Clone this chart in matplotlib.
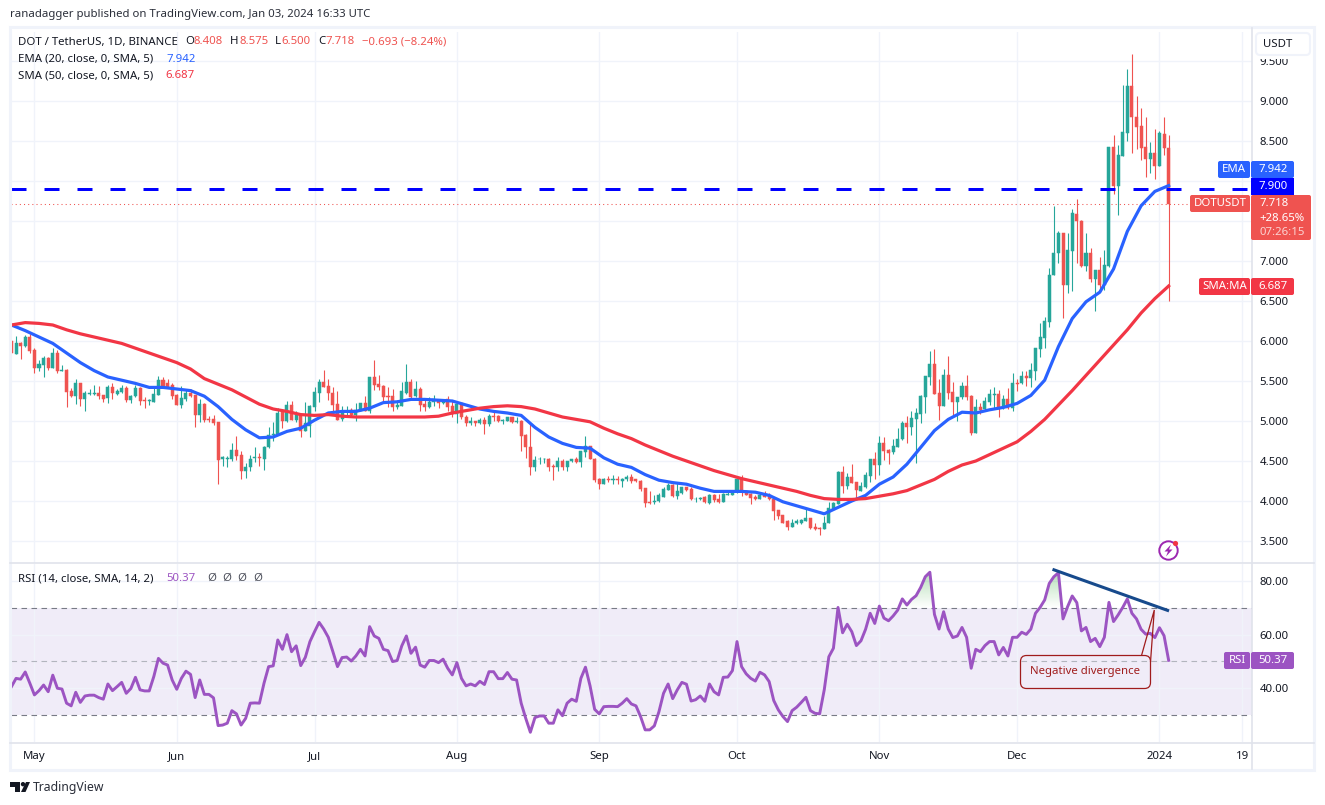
import numpy as np
import pandas as pd
import matplotlib
matplotlib.use('Agg')
import matplotlib.pyplot as plt
import matplotlib.dates as mdates
from matplotlib.patches import Rectangle, FancyBboxPatch, Polygon, Circle
from matplotlib.path import Path
from matplotlib.colors import LinearSegmentedColormap

plt.rcParams['font.family'] = ['Noto Sans', 'DejaVu Sans']

start_date = '2023-04-26'

opens = [6.00,5.84,5.98,5.94,6.05,5.89,5.66,5.70,5.79,5.66,
         5.85,5.63,5.64,5.37,5.31,5.47,5.28,5.34,5.34,5.35,
         5.32,5.29,5.42,5.34,5.36,5.41,5.26,5.31,5.41,5.26,
         5.25,5.24,5.33,5.51,5.47,5.45,5.32,5.20,5.27,5.35,
         5.32,5.07,5.21,5.03,5.02,4.99,4.53,4.53,4.53,4.64,
         4.57,4.38,4.43,4.54,4.55,4.53,4.67,4.83,4.83,5.12,
         5.00,5.20,5.01,5.09,4.88,4.94,5.18,5.35,5.49,5.44,
         5.35,5.21,5.02,5.12,5.14,5.08,5.12,5.22,5.13,5.55,
         5.46,5.44,5.31,5.31,5.18,5.19,5.35,5.49,5.31,5.40,
         5.21,5.18,5.24,5.25,5.22,5.27,5.19,5.09,5.22,5.05,
         4.98,5.00,4.98,5.01,4.96,5.06,5.06,5.00,5.00,5.05,
         4.99,5.00,4.82,4.67,4.43,4.52,4.52,4.52,4.44,4.43,
         4.50,4.42,4.50,4.52,4.49,4.61,4.69,4.53,4.28,4.21,
         4.27,4.26,4.27,4.25,4.27,4.30,4.27,4.25,4.16,3.99,
         3.99,4.00,4.05,4.14,4.20,4.06,4.10,4.17,4.15,4.02,
         4.02,4.05,3.98,4.08,4.03,3.99,4.08,4.08,4.11,4.28,
         4.13,4.09,4.05,4.03,4.07,4.07,4.02,3.89,3.82,3.75,
         3.68,3.72,3.73,3.75,3.79,3.67,3.66,3.65,3.72,3.90,
         3.96,4.36,4.19,4.30,4.24,4.13,4.18,4.31,4.53,4.45,
         4.73,4.64,4.61,4.68,4.77,4.97,4.93,5.03,5.09,5.30,
         5.55,5.71,5.35,5.19,5.57,5.36,5.24,5.30,5.44,5.31,
         4.85,5.17,5.15,5.24,5.33,5.34,5.16,5.28,5.16,5.47,
         5.47,5.56,5.54,5.63,5.90,6.04,6.24,6.83,7.10,7.35,
         6.70,7.13,7.59,7.50,6.94,7.10,6.78,6.89,6.70,6.94,
         8.42,7.94,8.31,8.60,9.19,8.80,8.69,8.42,8.27,8.35,
         8.19,8.59,8.408]

highs = [6.00,6.06,5.99,6.07,6.09,5.91,5.76,5.81,5.80,5.91,
         5.89,5.70,5.65,5.41,5.52,5.47,5.37,5.40,5.45,5.44,
         5.33,5.45,5.47,5.40,5.45,5.44,5.33,5.45,5.42,5.30,
         5.27,5.44,5.56,5.55,5.53,5.47,5.34,5.44,5.39,5.40,
         5.32,5.27,5.22,5.06,5.07,4.99,4.56,4.56,4.72,4.81,
         4.62,4.47,4.57,4.68,4.60,4.69,4.93,4.99,5.16,5.15,
         5.25,5.25,5.12,5.09,5.24,5.20,5.42,5.53,5.64,5.52,
         5.42,5.37,5.19,5.19,5.16,5.22,5.22,5.31,5.55,5.76,
         5.58,5.45,5.43,5.40,5.26,5.49,5.71,5.53,5.50,5.43,
         5.28,5.30,5.33,5.27,5.27,5.31,5.25,5.22,5.22,5.07,
         5.05,5.00,5.04,5.05,5.09,5.12,5.07,5.02,5.05,5.05,
         5.05,5.01,4.84,4.97,4.56,4.55,4.54,4.54,4.46,4.55,
         4.52,4.50,4.53,4.55,4.63,4.81,4.69,4.54,4.29,4.29,
         4.31,4.32,4.31,4.29,4.33,4.34,4.28,4.26,4.16,4.12,
         4.08,4.10,4.17,4.23,4.21,4.22,4.18,4.18,4.17,4.05,
         4.05,4.06,4.09,4.09,4.09,4.10,4.12,4.12,4.29,4.32,
         4.14,4.10,4.08,4.10,4.12,4.10,4.04,3.89,3.83,3.76,
         3.78,3.77,3.78,3.91,3.79,3.72,3.67,3.81,3.99,3.99,
         4.37,4.44,4.35,4.46,4.24,4.24,4.36,4.53,4.61,4.81,
         4.80,4.65,4.78,4.91,5.00,5.06,5.12,5.16,5.32,5.56,
         5.87,5.90,5.52,5.65,5.81,5.49,5.30,5.49,5.57,5.33,
         5.28,5.23,5.30,5.40,5.42,5.39,5.32,5.41,5.60,5.52,
         5.62,5.63,5.72,5.91,6.22,6.30,6.91,7.69,7.37,7.35,
         7.35,7.65,7.77,7.51,7.35,7.16,6.89,7.05,7.14,8.43,
         8.57,8.45,9.20,9.40,9.59,9.06,8.91,8.80,8.49,8.65,
         8.63,8.80,8.575]

lows = [5.85,5.84,5.77,5.93,5.85,5.60,5.62,5.55,5.64,5.66,
        5.60,5.62,5.18,5.30,5.21,5.19,5.13,5.33,5.32,5.28,
        5.24,5.23,5.27,5.33,5.35,5.24,5.22,5.30,5.20,5.16,
        5.20,5.24,5.33,5.42,5.41,5.28,5.20,5.16,5.25,5.30,
        4.92,4.99,4.99,4.99,4.95,4.21,4.44,4.43,4.50,4.51,
        4.27,4.29,4.38,4.49,4.44,4.39,4.66,4.75,4.83,4.91,
        4.99,5.01,4.99,4.80,4.88,4.80,5.13,5.24,5.43,5.26,
        5.10,5.01,5.00,5.07,5.06,5.00,5.12,5.12,5.10,5.39,
        5.39,5.24,5.18,5.12,5.15,5.19,5.34,5.28,5.30,5.12,
        5.13,5.16,5.19,5.16,5.21,5.12,5.05,4.97,5.02,4.94,
        4.95,4.94,4.96,4.84,4.94,5.00,4.99,4.96,5.00,4.98,
        4.97,4.63,4.54,4.33,4.38,4.46,4.48,4.37,4.26,4.38,
        4.39,4.37,4.49,4.48,4.43,4.55,4.52,4.24,4.15,4.21,
        4.24,4.21,4.21,4.18,4.25,4.22,4.24,4.12,3.92,3.96,
        3.96,3.99,4.05,4.14,4.05,4.03,4.09,4.13,4.01,3.99,
        4.01,3.97,3.96,3.99,3.97,3.99,4.07,4.07,4.10,4.06,
        4.07,3.96,4.01,4.02,4.05,4.01,3.76,3.77,3.72,3.64,
        3.67,3.71,3.71,3.75,3.65,3.64,3.57,3.65,3.72,3.89,
        3.96,4.10,4.15,4.22,4.02,4.13,4.16,4.24,4.27,4.32,
        4.51,4.46,4.59,4.67,4.76,4.73,4.82,4.47,4.98,5.10,
        5.45,5.34,5.01,5.19,5.28,5.06,5.00,5.28,5.26,4.82,
        4.85,5.09,5.14,5.20,5.15,5.05,5.15,5.15,5.13,5.38,
        5.46,5.44,5.43,5.51,5.80,5.91,6.18,6.82,6.97,6.29,
        6.60,6.62,6.97,6.93,6.87,6.74,6.38,6.62,6.64,6.92,
        7.84,7.58,8.31,8.50,8.35,8.40,8.26,8.05,8.10,8.03,
        8.19,8.32,6.50]

closes = [5.85,5.98,5.94,6.05,5.88,5.66,5.71,5.79,5.66,5.85,
          5.63,5.64,5.36,5.31,5.47,5.28,5.35,5.35,5.35,5.31,
          5.28,5.42,5.35,5.38,5.41,5.26,5.31,5.41,5.25,5.25,
          5.26,5.34,5.51,5.44,5.42,5.31,5.20,5.29,5.35,5.31,
          5.07,5.21,5.01,5.01,4.98,4.51,4.55,4.54,4.64,4.56,
          4.38,4.42,4.53,4.55,4.54,4.67,4.83,4.84,5.10,5.00,
          5.20,5.01,5.09,4.88,4.98,5.19,5.36,5.49,5.43,5.35,
          5.20,5.01,5.12,5.13,5.08,5.14,5.22,5.13,5.55,5.45,
          5.43,5.30,5.30,5.18,5.20,5.37,5.49,5.30,5.40,5.20,
          5.18,5.24,5.27,5.22,5.25,5.18,5.09,5.21,5.05,4.98,
          5.00,4.98,5.01,4.96,5.06,5.05,5.00,5.01,5.05,4.99,
          5.00,4.81,4.67,4.43,4.51,4.52,4.52,4.43,4.43,4.50,
          4.43,4.50,4.52,4.49,4.62,4.69,4.52,4.26,4.21,4.27,
          4.26,4.27,4.26,4.27,4.30,4.25,4.25,4.15,3.98,3.98,
          4.00,4.07,4.15,4.20,4.06,4.12,4.17,4.14,4.02,4.03,
          4.04,3.99,4.08,4.01,3.99,4.09,4.09,4.12,4.28,4.12,
          4.08,4.04,4.02,4.07,4.05,4.02,3.88,3.81,3.73,3.68,
          3.72,3.75,3.76,3.79,3.66,3.65,3.65,3.72,3.91,3.97,
          4.36,4.19,4.30,4.22,4.14,4.19,4.32,4.53,4.45,4.73,
          4.63,4.60,4.69,4.77,4.97,4.93,5.04,5.10,5.31,5.56,
          5.71,5.34,5.19,5.57,5.35,5.24,5.30,5.44,5.30,4.85,
          5.17,5.14,5.25,5.34,5.34,5.15,5.28,5.16,5.47,5.46,
          5.56,5.54,5.64,5.91,6.05,6.25,6.83,7.10,7.35,6.70,
          7.14,7.60,7.50,6.94,7.10,6.78,6.89,6.70,6.95,8.42,
          7.94,8.32,8.61,9.19,8.80,8.68,8.41,8.27,8.35,8.19,
          8.60,8.41,7.718]

# moving averages read every third candle
ema20 = [6.20,6.13,6.05,5.97,5.85,5.73,5.63,5.55,5.51,5.47,
         5.42,5.42,5.40,5.38,5.31,5.18,5.02,4.89,4.79,4.80,
         4.87,4.91,5.01,5.10,5.12,5.12,5.16,5.23,5.24,5.27,
         5.27,5.26,5.25,5.20,5.15,5.12,5.10,5.07,4.92,4.80,
         4.72,4.67,4.66,4.54,4.46,4.42,4.33,4.26,4.23,4.21,
         4.16,4.12,4.12,4.12,4.11,4.07,3.99,3.94,3.89,3.84,
         3.92,4.00,4.07,4.21,4.30,4.46,4.67,4.88,5.02,5.11,
         5.10,5.14,5.17,5.22,5.32,5.51,5.93,6.28,6.49,6.61,
         6.90,7.37,7.69,7.87,7.942]

sma50 = [6.20,6.23,6.22,6.20,6.14,6.09,6.05,6.01,5.97,5.91,
         5.85,5.79,5.73,5.65,5.53,5.46,5.39,5.30,5.21,5.15,
         5.12,5.08,5.07,5.08,5.06,5.05,5.05,5.05,5.05,5.05,
         5.05,5.06,5.10,5.13,5.16,5.18,5.19,5.18,5.15,5.10,
         5.05,5.02,4.99,4.91,4.84,4.78,4.70,4.63,4.56,4.50,
         4.44,4.38,4.33,4.28,4.24,4.20,4.16,4.12,4.07,4.03,
         4.02,4.02,4.03,4.06,4.09,4.13,4.20,4.27,4.37,4.45,
         4.50,4.58,4.66,4.74,4.87,5.02,5.20,5.38,5.57,5.76,
         5.95,6.14,6.35,6.53,6.687]

rsi = [40.5,43.6,43.3,46,41.8,37.4,39,41.1,38.6,44.8,
       39.9,39.6,34.3,33.3,38.4,34.6,37,37.3,37.3,36.4,
       35.8,41.5,39,40.5,42.1,38,39.8,44,39.3,38.9,
       38.9,44.3,51.1,49.3,48.6,43,39.5,43.6,46.3,45.1,
       36.4,43,37.6,37.6,36.3,25.9,26.1,26.8,31.5,30.3,
       26.1,28.6,34.3,34.4,34.3,41.8,48,48.3,58,54.5,
       60,53.6,55.8,48.4,51.5,57.4,61.1,64.6,62.1,59,
       53.6,48,51.4,51.6,50.1,52,54.5,52,63,59.5,
       58.6,54.5,54,49.9,50.3,55.8,59.5,53,55.3,48.6,
       47.8,50.3,50.3,49.5,50.8,47.4,44.9,49.5,43.6,40.8,
       41.5,40.8,42.5,41.3,46.1,46.1,43.5,43.5,45.8,43.3,
       43,34.3,28.6,23.4,28.9,29.5,29.5,26.8,26.8,31.8,
       29.6,34.3,35.8,35,43.6,47.8,40.8,32,30.3,33,
       33.1,33.1,33,34.3,36,34,33.3,29.3,24.3,24.3,
       25.8,31.1,38,41.5,36,39.3,42.1,41.4,35.1,35.6,
       37,35,41.5,38.6,37.4,44,44.1,46.5,57.4,48,
       45.3,43.6,42.6,45.9,44.9,42.4,35.3,31.8,29.3,27.4,
       31.5,32.8,34.6,36.5,31.5,30.5,30.3,39.3,51.7,54.9,
       70.2,60.7,63.9,61.1,55.9,57.7,62,68,64.2,70.7,
       66.2,65.2,67,69.2,73.4,71.1,73.2,74.6,77.7,81.7,
       83.4,67.6,62.1,68.6,62.1,58.9,59.5,62.7,59,47.4,
       54.5,53.6,55.9,57.4,57.4,52.4,55.2,52,59,59,
       60.9,60.1,62.1,68,70.2,73,79.2,81.7,83.2,65.9,
       70.5,74.5,72,61.4,62.7,57.4,58.6,55.5,59,72.1,
       64.9,67.4,70.2,73.4,68,65.9,62,60.2,60.5,58.9,
       62.6,59.6,50.37]

price_ticks = [3.5,4.0,4.5,5.0,5.5,6.0,6.5,7.0,7.5,8.0,8.5,9.0,9.5]
# 7.500 and 8.000 sit behind the price labels in the original
price_labels = ['3.500','4.000','4.500','5.000','5.500','6.000','6.500','7.000','','','8.500','9.000','9.500']
rsi_ticks = [40,60,80]
resistance = 7.9
month_ticks = ['2023-05-01','2023-06-01','2023-07-01','2023-08-01','2023-09-01',
               '2023-10-01','2023-11-01','2023-12-01','2024-01-01','2024-01-19']
month_labels = ['May','Jun','Jul','Aug','Sep','Oct','Nov','Dec','2024','19']
trend_dates = ['2023-12-08 17:00', '2024-01-03 02:00']
trend_values = [84.5, 68.9]

GREEN = '#26a69a'
RED = '#ef5350'
BLUE = '#2962ff'
MA_RED = '#f23645'
PURPLE = '#9c54c2'
GRID = '#f0f3fa'
INK = '#131722'
SIZE = 8.2

W, H = 1325, 805
fig = plt.figure(figsize=(W / 100, H / 100), dpi=100, facecolor='white')


def pane(left, top, right, bottom):
    return fig.add_axes([left / W, 1 - bottom / H, (right - left) / W, (bottom - top) / H])


ax = pane(11, 32, 1252, 563)
ax_rsi = pane(11, 564, 1252, 742)

dates = pd.date_range(start_date, periods=len(closes), freq='D')
x = mdates.date2num(dates)
o, h, l, c = map(np.array, (opens, highs, lows, closes))
colors = np.where(c >= o, GREEN, RED)

# price pane
wicks = ax.vlines(x, l, h, colors=colors, lw=0.8, zorder=3)
wicks.set_snap(True)
ax.bar(x, np.abs(c - o), bottom=np.minimum(o, c), width=0.66, color=colors,
       edgecolor=colors, linewidth=0.35, zorder=4)
ax.plot(x[::3], ema20, color=BLUE, lw=2.3, zorder=6, solid_joinstyle='round')
ax.plot(x[::3], sma50, color=MA_RED, lw=2.3, zorder=6, solid_joinstyle='round')
ax.axhline(resistance, color='#0000ff', lw=2.16, ls=(0, (5, 6)), dash_capstyle='butt', zorder=5)
ax.axhline(closes[-1], color=RED, lw=0.75, ls=(0, (1, 3)), zorder=2)

xlim = (x[0] - 0.1, x[0] + (1252 - 9.3) / 4.6)
ax.set_xlim(xlim)
ax.set_ylim(9 - (563 - 101) / 80, 9 + (101 - 32) / 80)
ax.set_yticks(price_ticks)
ax.set_yticklabels(price_labels)

# rsi pane
r = np.array(rsi)
ax_rsi.axhspan(30, 70, color='#7e57c2', alpha=0.11, lw=0, zorder=0)
ax_rsi.axhline(70, color='#787b86', lw=0.8, ls=(0, (5, 4)), zorder=2)
ax_rsi.axhline(30, color='#787b86', lw=0.8, ls=(0, (5, 4)), zorder=2)
ax_rsi.axhline(50, color='#b2b5be', lw=0.8, ls=(0, (5, 4)), zorder=2)

rsi_ylim = (80 - (742 - 581.3) / 2.667, 80 + (581.3 - 564) / 2.667)

over = ax_rsi.fill_between(x, 70, r, where=r > 70, interpolate=True, color='none')
under = ax_rsi.fill_between(x, 30, r, where=r < 30, interpolate=True, color='none')
cm_up = LinearSegmentedColormap.from_list('up', [(0.3, 0.69, 0.31, 0.0), (0.3, 0.69, 0.31, 0.42)])
cm_dn = LinearSegmentedColormap.from_list('dn', [(0.95, 0.25, 0.25, 0.16), (0.95, 0.25, 0.25, 0.0)])
img = ax_rsi.imshow(np.linspace(0, 1, 64).reshape(-1, 1), origin='lower', aspect='auto', cmap=cm_up,
                    extent=(x[0], x[-1], 70, 84), zorder=1)
img.set_clip_path(Path.make_compound_path(*over.get_paths()), ax_rsi.transData)
img = ax_rsi.imshow(np.linspace(0, 1, 64).reshape(-1, 1), origin='lower', aspect='auto', cmap=cm_dn,
                    extent=(x[0], x[-1], 22, 30), zorder=1)
img.set_clip_path(Path.make_compound_path(*under.get_paths()), ax_rsi.transData)

ax_rsi.plot(x, r, color=PURPLE, lw=2.1, zorder=4, solid_joinstyle='round')
ax_rsi.plot(mdates.date2num(pd.to_datetime(trend_dates)), trend_values,
            color='#174a8c', lw=2.2, zorder=5, solid_capstyle='butt')
ax_rsi.set_xlim(xlim)
ax_rsi.set_ylim(rsi_ylim)
ax_rsi.set_yticks(rsi_ticks)
ax_rsi.set_yticklabels(['%.2f' % v for v in rsi_ticks])

tick_pos = mdates.date2num(pd.to_datetime(month_ticks))
for a in (ax, ax_rsi):
    a.set_xticks(tick_pos)
    a.grid(True, color=GRID, lw=1.0, zorder=0)
    a.set_axisbelow(True)
    a.yaxis.tick_right()
    a.tick_params(axis='y', length=0, pad=5.5, labelsize=SIZE, labelcolor=INK)
    a.tick_params(axis='x', length=0, labelsize=SIZE, labelcolor=INK)
    for s in a.spines.values():
        s.set_visible(False)
ax.tick_params(axis='x', labelbottom=False)
ax_rsi.set_xticklabels(month_labels)
ax_rsi.tick_params(axis='x', pad=6.5)
ax_rsi.get_xticklabels()[8].set_fontweight('bold')

# overlay in pixel coordinates for frame, labels and drawings
ov = fig.add_axes([0, 0, 1, 1], zorder=10)
ov.set_xlim(0, W)
ov.set_ylim(H, 0)
ov.axis('off')
ov.patch.set_alpha(0)


def txt(px, py, s, color=INK, size=SIZE, ha='left', **kw):
    ov.text(px, py, s, color=color, fontsize=size, ha=ha, va='center', **kw)


def box(x0, y0, x1, y1, color):
    ov.add_patch(FancyBboxPatch((x0 + 1, y0 + 1), x1 - x0 - 2, y1 - y0 - 2, boxstyle='round,pad=1,rounding_size=2',
                                fc=color, ec='none', zorder=3))


# frame
ov.add_patch(Rectangle((10, 27), 1304, 742.5, fc='none', ec=GRID, lw=2.2))
ov.plot([10, 1314], [563.3, 563.3], color='#e0e3eb', lw=1.2)
ov.plot([10, 1314], [742.5, 742.5], color='#e0e3eb', lw=1.2)
ov.plot([1252, 1252], [28, 769], color='#e0e3eb', lw=1.2)

# USDT button, it cuts the top of the 9.500 label
ov.add_patch(Rectangle((1254, 33), 58, 26, fc='white', ec='none', zorder=3))
ov.add_patch(FancyBboxPatch((1256, 33), 54, 22, boxstyle='round,pad=0,rounding_size=4', fc='white',
                            ec='#f0f3fa', lw=1.5, zorder=4))
txt(1278, 44.5, 'USDT', ha='center', zorder=5)

# header and legends
txt(10, 14.5, 'ranadagger published on TradingView.com, Jan 03, 2024 16:33 UTC', color='#2a2e39')
txt(18, 42, 'DOT / TetherUS, 1D, BINANCE')
for px, s in [(185, 'O'), (230, 'H'), (275, 'L'), (318, 'C')]:
    txt(px, 42, s)
for px, s in [(194, '8.408'), (239, '8.575'), (281, '6.500'), (325, '7.718'), (362, '−0.693 (−8.24%)')]:
    txt(px, 42, s, color=RED)
txt(18, 59, 'EMA (20, close, 0, SMA, 5)')
txt(166, 59, '7.942', color=BLUE)
txt(18, 76, 'SMA (50, close, 0, SMA, 5)')
txt(165, 76, '6.687', color=MA_RED)
txt(18, 578.5, 'RSI (14, close, SMA, 14, 2)')
txt(166, 578.5, '50.37', color=PURPLE)
for px in (207, 222, 237, 253):
    txt(px, 578.5, 'Ø', color='#50535e')

# price scale labels
box(1218, 161, 1250, 178, BLUE)
txt(1234, 169.5, 'EMA', color='white', ha='center', zorder=5)
box(1251, 161, 1294, 178, BLUE)
txt(1273, 169.5, '7.942', color='white', ha='center', zorder=5)
ov.add_patch(Rectangle((1251, 178), 43, 17, fc='#0000ff', ec='none', zorder=4))
txt(1273, 186.5, '7.900', color='white', ha='center', zorder=5)
box(1190, 195, 1250, 212, RED)
txt(1220, 203.5, 'DOTUSDT', color='white', ha='center', zorder=5)
box(1251, 195, 1311, 240, RED)
txt(1259, 203.5, '7.718', color='white', zorder=5)
txt(1259, 218, '+28.65%', color='white', zorder=5)
txt(1259, 232, '07:26:15', color='#fbd3d2', zorder=5)
box(1199, 278, 1250, 295, MA_RED)
txt(1224.5, 286.5, 'SMA:MA', color='white', ha='center', zorder=5)
box(1251, 278, 1294, 295, MA_RED)
txt(1273, 286.5, '6.687', color='white', ha='center', zorder=5)
box(1224, 652, 1250, 669, PURPLE)
txt(1237, 660.5, 'RSI', color='white', ha='center', zorder=5)
box(1251, 652, 1294, 669, PURPLE)
txt(1273, 660.5, '50.37', color='white', ha='center', zorder=5)

# callout
DARKRED = '#a01c1c'
ov.add_patch(FancyBboxPatch((1026, 661), 119, 22, boxstyle='round,pad=5.5,rounding_size=6', fc='none',
                            ec=DARKRED, lw=0.9, zorder=3))
ov.add_patch(Polygon([(1141.5, 655.6), (1154.3, 610), (1150.5, 662)], closed=False, fc='none', ec=DARKRED,
                     lw=0.9, zorder=3))
txt(1085.5, 671, 'Negative divergence', color=DARKRED, ha='center', zorder=5)

# alert icon
ov.add_patch(Circle((1168.5, 550.5), 9.2, fc='white', ec='#9c27b0', lw=1.4, zorder=3))
ov.add_patch(Polygon([(1171, 544.5), (1164.5, 551.5), (1168, 551.5), (1166, 556.5), (1172.5, 549.5),
                      (1169, 549.5)], fc='#9c27b0', ec='none', zorder=4))
ov.add_patch(Circle((1175.5, 543.5), 2.6, fc='#f23645', ec='none', zorder=5))

# TradingView logo
ov.add_patch(Polygon([(10, 782), (20, 782), (20, 792), (14.5, 792), (14.5, 786.5), (10, 786.5)], fc='#131722', ec='none'))
ov.add_patch(Circle((23, 784.2), 2.2, fc='#131722', ec='none'))
ov.add_patch(Polygon([(26, 782), (30, 782), (25.5, 792), (21, 792)], fc='#131722', ec='none'))
txt(33, 787.5, 'TradingView', color='#2a2e39', size=8.8)

fig.savefig('out.png', dpi=100)
